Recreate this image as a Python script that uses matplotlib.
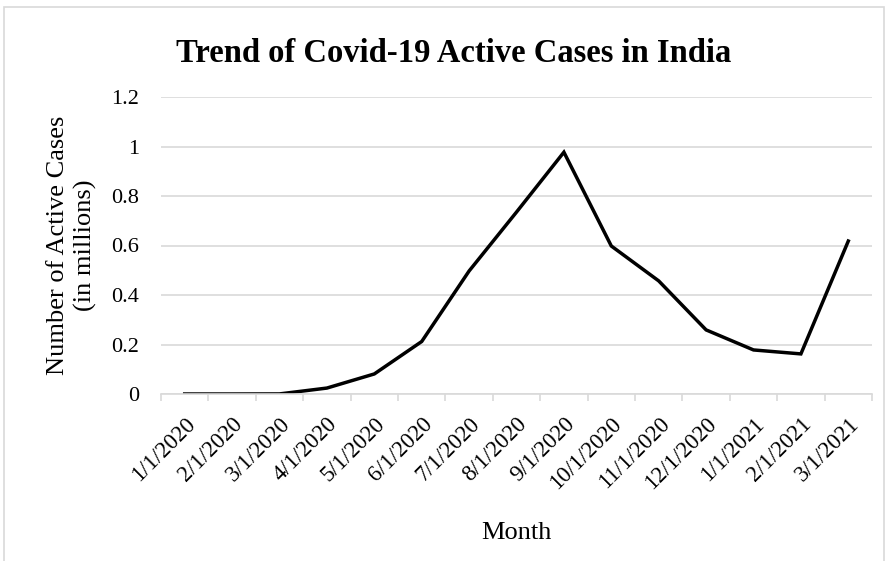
import numpy as np
import matplotlib
matplotlib.use("Agg")
import matplotlib.pyplot as plt
from matplotlib.patches import Rectangle

plt.rcParams["font.family"] = ["Liberation Serif", "DejaVu Serif"]

MONTHS = ["1/1/2020", "2/1/2020", "3/1/2020", "4/1/2020", "5/1/2020",
          "6/1/2020", "7/1/2020", "8/1/2020", "9/1/2020", "10/1/2020",
          "11/1/2020", "12/1/2020", "1/1/2021", "2/1/2021", "3/1/2021"]
ACTIVE_M = [0.0, 0.0, 0.0003, 0.024, 0.081, 0.212, 0.497, 0.735, 0.977,
            0.598, 0.457, 0.259, 0.178, 0.162, 0.618]
Y_TICKS = [0, 0.2, 0.4, 0.6, 0.8, 1.0, 1.2]
Y_LABELS = ["0", "0.2", "0.4", "0.6", "0.8", "1", "1.2"]

GRID = "#d9d9d9"
W, H = 889, 561

fig = plt.figure(figsize=(W / 100, H / 100), dpi=100)
ax = fig.add_axes([161 / W, 1 - 394 / H, 711 / W, 297 / H])

x = np.arange(len(MONTHS))
ax.plot(x, ACTIVE_M, color="black", linewidth=2.5, solid_joinstyle="miter")

ax.set_xlim(-0.5, len(MONTHS) - 0.5)
ax.set_ylim(0, 1.2)
ax.set_yticks(Y_TICKS)
ax.set_yticklabels(Y_LABELS, fontsize=16)
ax.yaxis.grid(True, color=GRID, linewidth=1.2)
ax.set_axisbelow(True)
ax.tick_params(axis="y", length=0, pad=16)

# category labels at centres, tick marks between categories
ax.set_xticks(x)
ax.set_xticklabels(MONTHS, fontsize=16.5, rotation=45, ha="right",
                   va="top", rotation_mode="anchor")
ax.set_xticks(np.arange(-0.5, len(MONTHS)), minor=True)
ax.tick_params(axis="x", which="major", length=0, pad=14)
ax.tick_params(axis="x", which="minor", length=5, color=GRID, width=1.2)

for side in ["left", "right", "top"]:
    ax.spines[side].set_visible(False)
ax.spines["bottom"].set_color(GRID)
ax.spines["bottom"].set_linewidth(1.2)

fig.text(72 / W, 1 - 245 / H, "Number of Active Cases\n(in millions)",
         fontsize=19, rotation=90, ha="center", va="center",
         multialignment="center", linespacing=1.3)
fig.text(516 / W, 1 - 533 / H, "Month", fontsize=19,
         ha="center", va="center")
fig.text(454 / W, 1 - 54 / H, "Trend of Covid-19 Active Cases in India",
         ha="center", va="center", fontsize=23.5, fontweight="bold")

# chart area border
fig.add_artist(Rectangle((4 / W, -0.01), 880 / W, 1 - 7 / H + 0.01,
                         transform=fig.transFigure, fill=False,
                         edgecolor=GRID, linewidth=1.2))

fig.savefig("out.png", dpi=100)
